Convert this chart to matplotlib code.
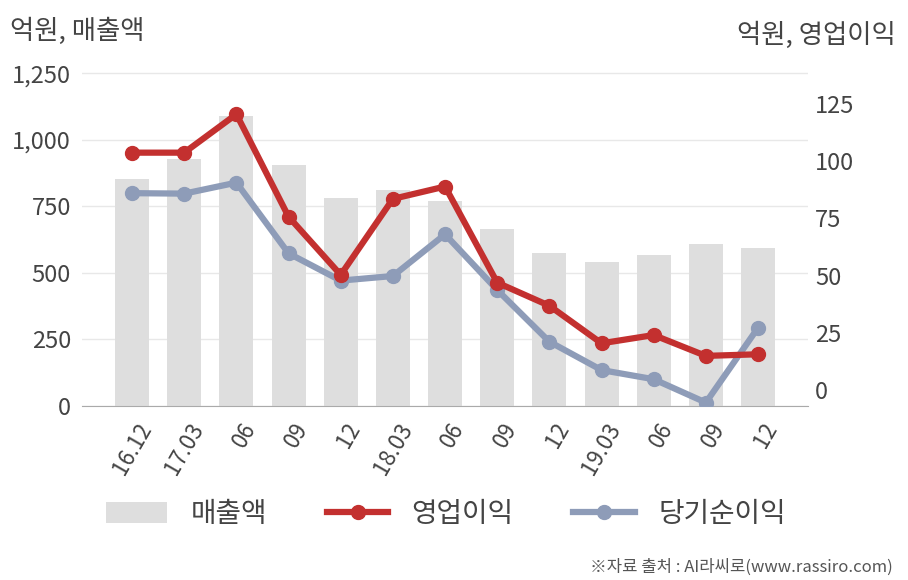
import matplotlib
matplotlib.use("Agg")
import matplotlib.pyplot as plt
from matplotlib.patches import Patch
from matplotlib.lines import Line2D

plt.rcParams['font.family'] = ['Noto Sans CJK KR', 'DejaVu Sans']

labels = ["16.12", "17.03", "06", "09", "12", "18.03", "06", "09", "12", "19.03", "06", "09", "12"]
sales = [853, 929, 1090, 907, 782, 812, 771, 665, 575, 541, 568, 609, 594]
op_profit = [103.7, 103.7, 120.5, 75.7, 50.3, 83.5, 88.9, 46.9, 36.8, 20.4, 24.0, 14.9, 15.6]
net_profit = [86.0, 85.8, 90.6, 59.7, 47.8, 49.8, 68.0, 43.7, 21.1, 8.7, 4.7, -5.5, 27.2]

BAR = "#dedede"
RED = "#c3302f"
BLUE = "#8e9cb8"
TXT = "#444444"

fig = plt.figure(figsize=(9.08, 5.80), dpi=100)
ax = fig.add_axes([0.0903, 0.30, 0.7997, 0.5966])
x = list(range(len(labels)))
ax.bar(x, sales, width=0.65, color=BAR, zorder=2)
ax.set_ylim(0, 1300)
ax.set_xlim(-0.96, 12.96)
ax.set_yticks([0, 250, 500, 750, 1000, 1250])
ax.set_yticklabels(["0", "250", "500", "750", "1,000", "1,250"])
ax.grid(axis='y', color="#e8e8e8", linewidth=1, zorder=0)
ax.set_axisbelow(True)
for s in ["top", "right", "left"]:
    ax.spines[s].set_visible(False)
ax.spines["bottom"].set_color("#aaaaaa")
ax.tick_params(axis='y', length=0, labelsize=17, labelcolor=TXT, pad=8)
ax.tick_params(axis='x', length=0, labelsize=16, labelcolor=TXT, pad=6)
ax.set_xticks(x)
ax.set_xticklabels(labels, rotation=60, ha='right', va='center', rotation_mode='anchor')
for t in ax.get_xticklabels():
    t.set_transform(t.get_transform() + matplotlib.transforms.ScaledTranslation(0.14, -0.10, fig.dpi_scale_trans))

ax2 = ax.twinx()
ax2.set_ylim(-7, 144.2)
ax2.set_yticks([0, 25, 50, 75, 100, 125])
for s in ["top", "right", "left", "bottom"]:
    ax2.spines[s].set_visible(False)
ax2.tick_params(axis='y', length=0, labelsize=17, labelcolor=TXT, pad=5)
ax2.plot(x, net_profit, color=BLUE, linewidth=4.5, marker='o', markersize=10, zorder=3)
ax2.plot(x, op_profit, color=RED, linewidth=4.5, marker='o', markersize=10, zorder=4)

fig.text(10/908, 1-31/580, "억원, 매출액", fontsize=19, color=TXT, ha='left', va='center')
fig.text(896/908, 1-35/580, "억원, 영업이익", fontsize=19, color=TXT, ha='right', va='center')

handles = [
    Patch(facecolor=BAR, edgecolor='none'),
    Line2D([0], [0], color=RED, linewidth=4.5, marker='o', markersize=10),
    Line2D([0], [0], color=BLUE, linewidth=4.5, marker='o', markersize=10),
]
fig.legend(handles, ["매출액", "영업이익", "당기순이익"], loc='center',
           bbox_to_anchor=(0.491, 1-514/580), ncol=3, frameon=False,
           fontsize=20, handlelength=2.2, handleheight=0.8, columnspacing=2.15,
           handletextpad=0.85, labelcolor=TXT)

fig.text(893/908, 1-567/580, "※자료 출처 : AI라씨로(www.rassiro.com)", fontsize=12,
         color="#555555", ha='right', va='center')

fig.savefig("out.png", dpi=100)
